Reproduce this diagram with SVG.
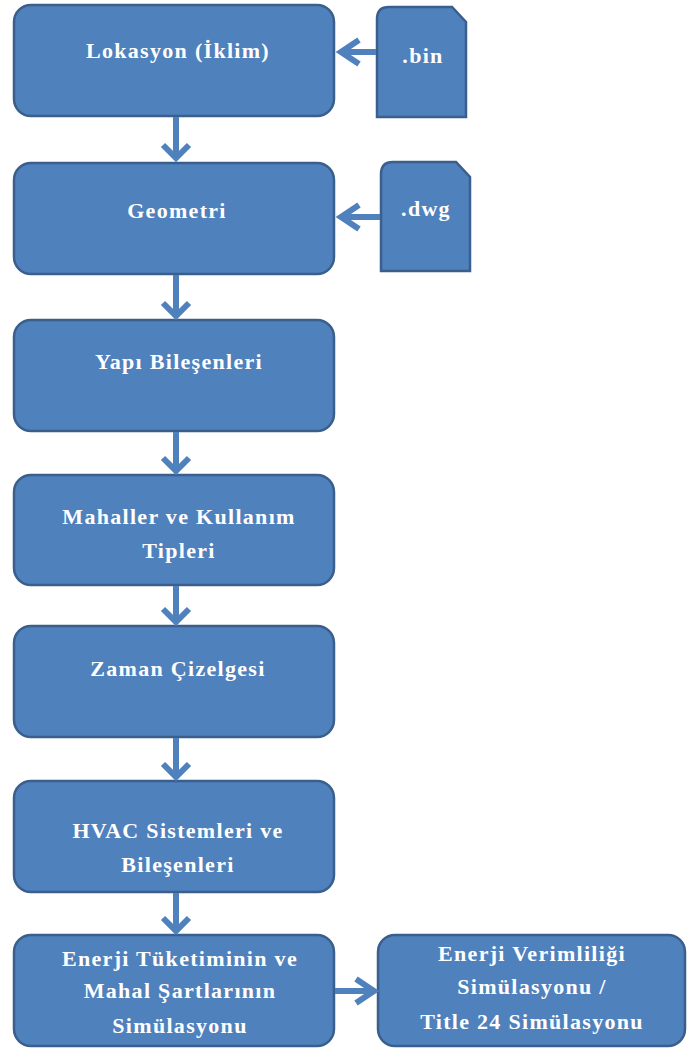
<svg xmlns="http://www.w3.org/2000/svg" width="688" height="1052" viewBox="0 0 688 1052">
<style>
.box{fill:#4F81BD;stroke:#3A5F8C;stroke-width:2.5}
.lbl{font-family:"Liberation Serif","Times New Roman",serif;font-weight:bold;font-size:22px;fill:#FFFFFF;text-anchor:middle;letter-spacing:1.3px}
.con{fill:none;stroke:#4F81BD;stroke-width:6;stroke-linecap:butt;stroke-linejoin:miter}
</style>
<rect width="688" height="1052" fill="#FFFFFF"/>
<g id="n1"><rect class="box" x="14" y="5" width="320" height="111" rx="17"/><text class="lbl" x="178" y="58">Lokasyon (İklim)</text></g>
<g id="bin"><path class="box" d="M377,117 V19 Q377,7 389,7 H452 L466,22 V117 Z"/><text class="lbl" x="423" y="63">.bin</text></g>
<g id="n2"><rect class="box" x="14" y="163" width="320" height="111" rx="17"/><text class="lbl" x="177" y="218">Geometri</text></g>
<g id="dwg"><path class="box" d="M381,271 V174 Q381,162 393,162 H456 L470,177 V271 Z"/><text class="lbl" x="426" y="216">.dwg</text></g>
<g id="n3"><rect class="box" x="14" y="320" width="320" height="111" rx="17"/><text class="lbl" x="179" y="369">Yapı Bileşenleri</text></g>
<g id="n4"><rect class="box" x="14" y="475" width="320" height="110" rx="17"/><text class="lbl" x="179" y="524">Mahaller ve Kullanım</text><text class="lbl" x="179" y="558">Tipleri</text></g>
<g id="n5"><rect class="box" x="14" y="626" width="320" height="111" rx="17"/><text class="lbl" x="178" y="676">Zaman Çizelgesi</text></g>
<g id="n6"><rect class="box" x="14" y="781" width="320" height="111" rx="17"/><text class="lbl" x="178" y="838">HVAC Sistemleri ve</text><text class="lbl" x="178" y="872">Bileşenleri</text></g>
<g id="n7"><rect class="box" x="14" y="935" width="320" height="111" rx="17"/><text class="lbl" x="180" y="966">Enerji Tüketiminin ve</text><text class="lbl" x="180" y="998">Mahal Şartlarının</text><text class="lbl" x="180" y="1033">Simülasyonu</text></g>
<g id="n8"><rect class="box" x="378" y="935" width="307" height="111" rx="17"/><text class="lbl" x="532" y="961">Enerji Verimliliği</text><text class="lbl" x="532" y="994">Simülasyonu /</text><text class="lbl" x="532" y="1029">Title 24 Simülasyonu</text></g>
<g id="connectors">
<path class="con" d="M176,117 V158 M163,145 L176,158 L189,145"/>
<path class="con" d="M176,275 V316 M163,303 L176,316 L189,303"/>
<path class="con" d="M176,432 V471 M163,458 L176,471 L189,458"/>
<path class="con" d="M176,586 V622 M163,609 L176,622 L189,609"/>
<path class="con" d="M176,738 V777 M163,764 L176,777 L189,764"/>
<path class="con" d="M176,893 V931 M163,918 L176,931 L189,918"/>
<path class="con" d="M376,52 H341 M359,40 L341,52 L359,64"/>
<path class="con" d="M380,217 H341 M359,205 L341,217 L359,229"/>
<path class="con" d="M335,991 H374 M356,979 L374,991 L356,1003"/>
</g>
</svg>
